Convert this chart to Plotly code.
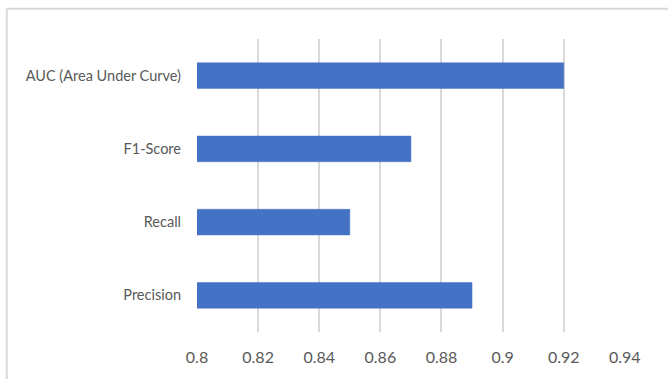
import plotly.graph_objects as go

categories = ["Precision", "Recall", "F1-Score", "AUC (Area Under Curve)"]
values = [0.89, 0.85, 0.87, 0.92]
tick_vals = [0.8, 0.82, 0.84, 0.86, 0.88, 0.9, 0.92, 0.94]
tick_text = ["0.8", "0.82", "0.84", "0.86", "0.88", "0.9", "0.92", "0.94"]

W, H = 668, 379
L, R, T, B = 197, 43, 39, 47
pw, ph = W - L - R, H - T - B

def px_x(p):
    return (p - L) / pw

def px_y(p):
    return (H - B - p) / ph

fig = go.Figure(go.Bar(
    y=categories, x=values, orientation="h",
    marker=dict(color="#4472C4", line=dict(color="#4472C4", width=0.5)),
    width=0.35,
))

fig.update_layout(
    width=W, height=H,
    margin=dict(l=L, r=R, t=T, b=B),
    paper_bgcolor="white", plot_bgcolor="white",
    showlegend=False,
    font=dict(family="Lato", color="#595959"),
    xaxis=dict(
        range=[0.8, 0.94005], tickvals=tick_vals, ticktext=tick_text,
        showgrid=True, gridcolor="#D9D9D9", gridwidth=1.5,
        zeroline=False, showline=False, ticks="",
        tickfont=dict(size=16, color="#595959", family="Lato"),
        ticklabelstandoff=14,
    ),
    yaxis=dict(
        showgrid=False, zeroline=False, showline=False, ticks="",
        tickfont=dict(size=14.5, color="#595959", family="Lato"),
        ticklabelstandoff=15,
    ),
    shapes=[
        dict(type="line", xref="paper", yref="paper",
             x0=px_x(6.8), x1=px_x(6.8), y0=px_y(8.8), y1=px_y(H + 5),
             line=dict(color="#D9D9D9", width=2)),
        dict(type="line", xref="paper", yref="paper",
             x0=px_x(6.8), x1=px_x(W + 5), y0=px_y(8.8), y1=px_y(8.8),
             line=dict(color="#D9D9D9", width=2)),
    ],
)

fig.write_html("out.html")
